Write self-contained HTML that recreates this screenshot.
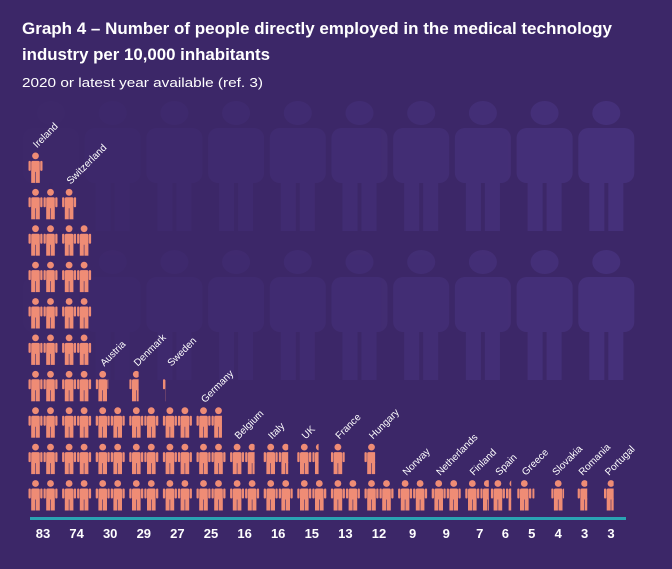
<!DOCTYPE html>
<html><head><meta charset="utf-8"><style>
html,body{margin:0;padding:0;background:#3c2768;}
svg{display:block}
</style></head><body>
<svg id="chart" width="672" height="569" viewBox="0 0 672 569" xmlns="http://www.w3.org/2000/svg" font-family="Liberation Sans, sans-serif">
<rect width="672" height="569" fill="#3c2768"/>
<g id="bgfigs"></g>
<text x="22" y="34" fill="#fff" font-size="17" font-weight="bold" textLength="590" lengthAdjust="spacingAndGlyphs">Graph 4 – Number of people directly employed in the medical technology</text>
<text x="22" y="60" fill="#fff" font-size="17" font-weight="bold" textLength="248" lengthAdjust="spacingAndGlyphs">industry per 10,000 inhabitants</text>
<text x="22" y="87" fill="#fff" font-size="13" textLength="241" lengthAdjust="spacingAndGlyphs">2020 or latest year available  (ref. 3)</text>
<defs id="defs"></defs>
<g id="marks"></g>
<rect x="30" y="517" width="596" height="3" fill="#2aa3b3"/>
<g id="labels"></g>
</svg>
<script>
const countries = ["Ireland","Switzerland","Austria","Denmark","Sweden","Germany","Belgium","Italy","UK","France","Hungary","Norway","Netherlands","Finland","Spain","Greece","Slovakia","Romania","Portugal"];
const values = [83,74,30,29,27,25,16,16,15,13,12,9,9,7,6,5,4,3,3];
const valueLabels = ["83","74","30","29","27","25","16","16","15","13","12","9","9","7","6","5","4","3","3"];
const peoplePerIcon = 4.35;

const NS="http://www.w3.org/2000/svg";
function mk(t,a){const e=document.createElementNS(NS,t);for(const k in a)e.setAttribute(k,a[k]);return e;}
function xPos(i){return i<=13?43+33.6*i:479+26.4*(i-13);}
const baseY=495, rowH=36.4, pairDx=7.5;
function rowY(r){return baseY-r*rowH;}

const bg=document.getElementById('bgfigs');
function bigFig(cx,top,op){
  const g=mk('g',{fill:'#5a45a0',opacity:op});
  
  
  g.appendChild(mk('ellipse',{cx:cx,cy:top+12,rx:14,ry:12}));
  g.appendChild(mk('rect',{x:cx-28,y:top+27,width:56,height:55,rx:10}));
  g.appendChild(mk('rect',{x:cx-17,y:top+70,width:15,height:60}));
  g.appendChild(mk('rect',{x:cx+2,y:top+70,width:15,height:60}));
  bg.appendChild(g);
}
for(let k=0;k<10;k++){const cx=51+61.7*k;const op=0.03+0.033*k;bigFig(cx,101,op);bigFig(cx,250,op);}

function icon(cx,cy,frac,id){
  const g=mk('g',{fill:'#ef8c75'});
  
  
  if(frac<1){
    const cp=mk('clipPath',{id:'c'+id});
    cp.appendChild(mk('rect',{x:cx-7,y:cy-17,width:14*frac,height:34}));
    document.getElementById('defs').appendChild(cp);
    g.setAttribute('clip-path','url(#c'+id+')');
  }
  g.appendChild(mk('circle',{cx:cx,cy:cy-11.5,r:3.4}));
  g.appendChild(mk('rect',{x:cx-4.3,y:cy-6.5,width:8.6,height:11,rx:1.5}));
  g.appendChild(mk('rect',{x:cx-7,y:cy-6.5,width:2.3,height:10,rx:1}));
  g.appendChild(mk('rect',{x:cx+4.7,y:cy-6.5,width:2.3,height:10,rx:1}));
  g.appendChild(mk('rect',{x:cx-4.3,y:cy+3.5,width:4,height:12}));
  g.appendChild(mk('rect',{x:cx+0.3,y:cy+3.5,width:4,height:12}));
  return g;
}
const marks=document.getElementById('marks'), labels=document.getElementById('labels');
let uid=0;
values.forEach((v,i)=>{
  const n=v/peoplePerIcon;
  const xc=xPos(i);
  const two=v>=5;
  const col=mk('g',{});
  
  
  const full=Math.floor(n), frac=n-full;
  const total=frac>0.1?full+1:full;
  let topY=baseY;
  for(let k=0;k<total;k++){
    const f=k<full?1:frac;
    let cx,cy;
    if(two){const r=Math.floor(k/2);cy=rowY(r);cx=xc+(k%2===0?-pairDx:pairDx);}
    else{cy=rowY(k);cx=xc;}
    topY=Math.min(topY,cy);
    col.appendChild(icon(cx,cy,f,uid++));
  }
  marks.appendChild(col);
  const lx=(two?xc-6:xc-2), ly=topY-19;
  const t=mk('text',{x:lx,y:ly,fill:'#fff','font-size':'10',transform:`rotate(-45 ${lx} ${ly})`});
  
  
  t.textContent=countries[i];
  marks.appendChild(t);
  const vt=mk('text',{x:xc,y:538,fill:'#fff','font-size':'13','font-weight':'bold','text-anchor':'middle'});
  
  
  vt.textContent=valueLabels[i];
  labels.appendChild(vt);
});
</script>
</body></html>
